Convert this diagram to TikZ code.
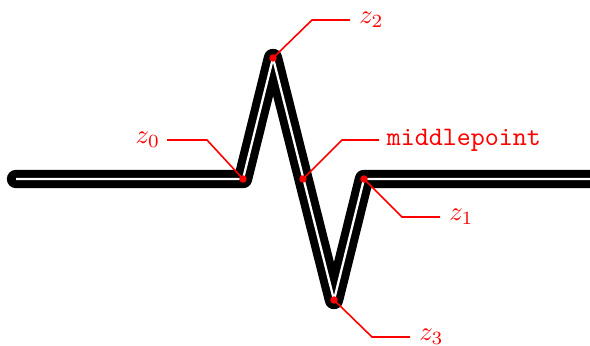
\documentclass[tikz,border=0pt]{standalone}
\begin{document}
\begin{tikzpicture}[x=0.375pt,y=-0.375pt,
  blackline/.style={line width=6.9pt,black,line cap=round,line join=round},
  whiteline/.style={line width=0.85pt,white,line join=round},
  leader/.style={red,line width=0.6pt},
  dotmark/.style={circle,fill=red,inner sep=0pt,minimum size=2.8pt},
  lbl/.style={red,inner sep=1pt}]
\useasboundingbox (0,0) rectangle (590,345);
\coordinate (s) at (16,179);
\coordinate (z0) at (243,179);
\coordinate (z2) at (273,58);
\coordinate (z3) at (334,300);
\coordinate (z1) at (364,179);
\coordinate (e) at (610,179);
\coordinate (m) at (303,179);
\draw[blackline] (s) -- (z0) -- (z2) -- (z3) -- (z1) -- (e);
\draw[whiteline] (s) -- (z0) -- (z2) -- (z3) -- (z1) -- (e);
% leaders
\coordinate (a0) at (207,140); \coordinate (b0) at (167,140);
\coordinate (a2) at (312,20); \coordinate (b2) at (350,20);
\coordinate (am) at (342,140); \coordinate (bm) at (379,140);
\coordinate (a1) at (402,217); \coordinate (b1) at (440,217);
\coordinate (a3) at (372,337); \coordinate (b3) at (410,337);
\draw[leader] (z0) -- (a0) -- (b0);
\draw[leader] (z2) -- (a2) -- (b2);
\draw[leader] (m) -- (am) -- (bm);
\draw[leader] (z1) -- (a1) -- (b1);
\draw[leader] (z3) -- (a3) -- (b3);
\node[dotmark] (d0) at (z0) {};
\node[dotmark] (d2) at (z2) {};
\node[dotmark] (dm) at (m) {};
\node[dotmark] (d1) at (z1) {};
\node[dotmark] (d3) at (z3) {};
\node[lbl,anchor=east] (l0) at ([xshift=-1.4pt]b0) {$z_0$};
\node[lbl,anchor=west] (l2) at ([xshift=2.3pt]b2) {$z_2$};
\node[lbl,anchor=west] (lm) at ([xshift=1.75pt]bm) {\ttfamily middlepoint};
\node[lbl,anchor=west] (l1) at ([xshift=2.3pt]b1) {$z_1$};
\node[lbl,anchor=west] (l3) at ([xshift=2.3pt]b3) {$z_3$};
\end{tikzpicture}
\end{document}
